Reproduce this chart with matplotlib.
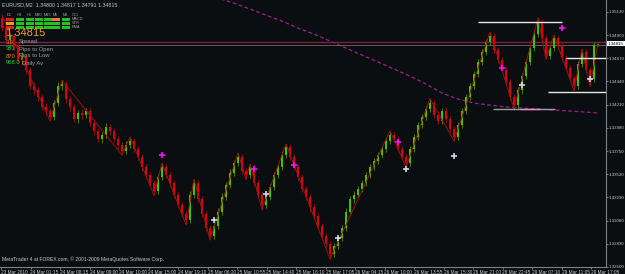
import matplotlib
matplotlib.use('Agg')
import matplotlib.pyplot as plt
import matplotlib.transforms as mtransforms

# EURUSD M2 bars (open, high, low, close)
opens = [1.3507, 1.3497, 1.3485, 1.3489, 1.3479, 1.3465, 1.3469, 1.3455, 1.3439, 1.3435,
         1.3429, 1.3419, 1.3415, 1.3409, 1.3423, 1.3439, 1.3441, 1.3427, 1.3419, 1.3407,
         1.3413, 1.3411, 1.3415, 1.3403, 1.3395, 1.3387, 1.3391, 1.3399, 1.3395, 1.3387,
         1.3381, 1.3375, 1.3381, 1.3385, 1.3377, 1.3369, 1.3359, 1.3351, 1.3343, 1.3335,
         1.3349, 1.3359, 1.3351, 1.3343, 1.3331, 1.3321, 1.3313, 1.3307, 1.3331, 1.3343,
         1.3327, 1.3313, 1.3299, 1.3291, 1.3301, 1.3315, 1.3329, 1.3341, 1.3353, 1.3363,
         1.3369, 1.3355, 1.3351, 1.3359, 1.3343, 1.3331, 1.3321, 1.3329, 1.3339, 1.3351,
         1.3359, 1.3371, 1.3379, 1.3369, 1.3359, 1.3349, 1.3337, 1.3329, 1.3319, 1.3311,
         1.3301, 1.3291, 1.3283, 1.3273, 1.3281, 1.3289, 1.3299, 1.3315, 1.3327, 1.3331,
         1.3337, 1.3343, 1.3351, 1.3359, 1.3365, 1.3371, 1.3377, 1.3385, 1.3391, 1.3387,
         1.3377, 1.3369, 1.3363, 1.3377, 1.3389, 1.3401, 1.3409, 1.3417, 1.3423, 1.3411,
         1.3405, 1.3415, 1.3407, 1.3397, 1.3389, 1.3401, 1.3415, 1.3429, 1.3439, 1.3451,
         1.3463, 1.3473, 1.3483, 1.3489, 1.3475, 1.3465, 1.3455, 1.3443, 1.3429, 1.3421,
         1.3435, 1.3449, 1.3463, 1.3477, 1.3491, 1.3503, 1.3487, 1.3469, 1.3477, 1.3487,
         1.3479, 1.3467, 1.3457, 1.3447, 1.3439, 1.3461, 1.3473, 1.3455, 1.3446, 1.3480]
highs = [1.3510, 1.3500, 1.3493, 1.3491, 1.3482, 1.3473, 1.3471, 1.3458, 1.3443, 1.3438,
         1.3432, 1.3423, 1.3418, 1.3426, 1.3443, 1.3445, 1.3444, 1.3430, 1.3422, 1.3416,
         1.3417, 1.3418, 1.3418, 1.3406, 1.3398, 1.3394, 1.3403, 1.3402, 1.3398, 1.3390,
         1.3384, 1.3385, 1.3389, 1.3388, 1.3380, 1.3372, 1.3362, 1.3354, 1.3346, 1.3352,
         1.3363, 1.3362, 1.3354, 1.3346, 1.3334, 1.3324, 1.3316, 1.3335, 1.3347, 1.3346,
         1.3330, 1.3316, 1.3302, 1.3304, 1.3318, 1.3333, 1.3344, 1.3357, 1.3366, 1.3373,
         1.3372, 1.3358, 1.3362, 1.3362, 1.3346, 1.3334, 1.3332, 1.3342, 1.3354, 1.3362,
         1.3375, 1.3382, 1.3382, 1.3372, 1.3362, 1.3352, 1.3340, 1.3332, 1.3322, 1.3314,
         1.3304, 1.3294, 1.3286, 1.3284, 1.3292, 1.3302, 1.3318, 1.3330, 1.3335, 1.3340,
         1.3346, 1.3354, 1.3362, 1.3368, 1.3374, 1.3380, 1.3388, 1.3395, 1.3394, 1.3390,
         1.3380, 1.3372, 1.3380, 1.3392, 1.3404, 1.3412, 1.3420, 1.3427, 1.3426, 1.3414,
         1.3418, 1.3418, 1.3410, 1.3400, 1.3404, 1.3418, 1.3432, 1.3442, 1.3454, 1.3466,
         1.3476, 1.3486, 1.3493, 1.3492, 1.3478, 1.3468, 1.3458, 1.3446, 1.3432, 1.3438,
         1.3452, 1.3466, 1.3480, 1.3494, 1.3507, 1.3506, 1.3490, 1.3480, 1.3490, 1.3490,
         1.3482, 1.3470, 1.3460, 1.3450, 1.3464, 1.3476, 1.3476, 1.3458, 1.3483, 1.34817]
lows = [1.3494, 1.3482, 1.3481, 1.3475, 1.3462, 1.3461, 1.3451, 1.3436, 1.3431, 1.3425,
        1.3416, 1.3411, 1.3405, 1.3406, 1.3420, 1.3435, 1.3423, 1.3415, 1.3404, 1.3403,
        1.3407, 1.3408, 1.3400, 1.3391, 1.3384, 1.3383, 1.3388, 1.3391, 1.3384, 1.3377,
        1.3371, 1.3372, 1.3378, 1.3374, 1.3366, 1.3355, 1.3347, 1.3340, 1.3331, 1.3332,
        1.3346, 1.3348, 1.3339, 1.3328, 1.3318, 1.3310, 1.3302, 1.3304, 1.3328, 1.3324,
        1.3310, 1.3296, 1.3287, 1.3288, 1.3298, 1.3312, 1.3326, 1.3338, 1.3350, 1.3360,
        1.3352, 1.3347, 1.3348, 1.3340, 1.3328, 1.3317, 1.3318, 1.3326, 1.3336, 1.3348,
        1.3356, 1.3368, 1.3366, 1.3356, 1.3345, 1.3334, 1.3326, 1.3315, 1.3308, 1.3297,
        1.3288, 1.3279, 1.3268, 1.3270, 1.3278, 1.3286, 1.3296, 1.3312, 1.3323, 1.3328,
        1.3334, 1.3340, 1.3348, 1.3356, 1.3362, 1.3368, 1.3374, 1.3382, 1.3384, 1.3374,
        1.3366, 1.3359, 1.3360, 1.3374, 1.3386, 1.3398, 1.3406, 1.3414, 1.3408, 1.3402,
        1.3402, 1.3404, 1.3394, 1.3385, 1.3386, 1.3398, 1.3412, 1.3426, 1.3436, 1.3448,
        1.3460, 1.3470, 1.3480, 1.3472, 1.3462, 1.3452, 1.3440, 1.3426, 1.3417, 1.3418,
        1.3432, 1.3446, 1.3460, 1.3474, 1.3488, 1.3484, 1.3466, 1.3466, 1.3474, 1.3476,
        1.3464, 1.3454, 1.3444, 1.3435, 1.3436, 1.3458, 1.3452, 1.3439, 1.3443, 1.34791]
closes = [1.3497, 1.3485, 1.3489, 1.3479, 1.3465, 1.3469, 1.3455, 1.3439, 1.3435, 1.3429,
          1.3419, 1.3415, 1.3409, 1.3423, 1.3439, 1.3441, 1.3427, 1.3419, 1.3407, 1.3413,
          1.3411, 1.3415, 1.3403, 1.3395, 1.3387, 1.3391, 1.3399, 1.3395, 1.3387, 1.3381,
          1.3375, 1.3381, 1.3385, 1.3377, 1.3369, 1.3359, 1.3351, 1.3343, 1.3335, 1.3349,
          1.3359, 1.3351, 1.3343, 1.3331, 1.3321, 1.3313, 1.3307, 1.3331, 1.3343, 1.3327,
          1.3313, 1.3299, 1.3291, 1.3301, 1.3315, 1.3329, 1.3341, 1.3353, 1.3363, 1.3369,
          1.3355, 1.3351, 1.3359, 1.3343, 1.3331, 1.3321, 1.3329, 1.3339, 1.3351, 1.3359,
          1.3371, 1.3379, 1.3369, 1.3359, 1.3349, 1.3337, 1.3329, 1.3319, 1.3311, 1.3301,
          1.3291, 1.3283, 1.3273, 1.3281, 1.3289, 1.3299, 1.3315, 1.3327, 1.3331, 1.3337,
          1.3343, 1.3351, 1.3359, 1.3365, 1.3371, 1.3377, 1.3385, 1.3391, 1.3387, 1.3377,
          1.3369, 1.3363, 1.3377, 1.3389, 1.3401, 1.3409, 1.3417, 1.3423, 1.3411, 1.3405,
          1.3415, 1.3407, 1.3397, 1.3389, 1.3401, 1.3415, 1.3429, 1.3439, 1.3451, 1.3463,
          1.3473, 1.3483, 1.3489, 1.3475, 1.3465, 1.3455, 1.3443, 1.3429, 1.3421, 1.3435,
          1.3449, 1.3463, 1.3477, 1.3491, 1.3503, 1.3487, 1.3469, 1.3477, 1.3487, 1.3479,
          1.3467, 1.3457, 1.3447, 1.3439, 1.3461, 1.3473, 1.3455, 1.3446, 1.3480, 1.34815]

# slow moving average (dashed)
ma_bars = [54, 58, 62, 66, 70, 74, 78, 82, 86, 90, 94, 98, 102, 106, 110,
           114, 118, 122, 126, 130, 134, 138, 142, 146, 149]
ma_vals = [1.35266, 1.35216, 1.35157, 1.35097, 1.35038, 1.34968, 1.34909, 1.34840,
           1.34770, 1.34701, 1.34632, 1.34562, 1.34493, 1.34414, 1.34324, 1.34265,
           1.34225, 1.34205, 1.34186, 1.34176, 1.34166, 1.34156, 1.34146, 1.34136, 1.34126]

# zigzag pivots
zz_bars = [0, 12, 15, 30, 32, 38, 40, 46, 48, 52, 59, 61, 62, 65, 71, 82, 97,
           101, 107, 113, 122, 128, 134, 136, 138, 143, 145, 147, 149]
zz_vals = [1.3510, 1.3405, 1.3445, 1.3371, 1.3389, 1.3331, 1.3363, 1.3302, 1.3347,
           1.3287, 1.3373, 1.3347, 1.3362, 1.3317, 1.3382, 1.3268, 1.3395, 1.3359,
           1.3427, 1.3385, 1.3493, 1.3417, 1.3507, 1.3466, 1.3490, 1.3435, 1.3476,
           1.3439, 1.34817]

# fractal marks
up_bars = [40, 63, 73, 99, 125, 140]
up_vals = [1.3371, 1.3357, 1.3361, 1.3384, 1.3457, 1.3497]
dn_bars = [53, 66, 84, 101, 113, 130, 147]
dn_vals = [1.3307, 1.3332, 1.3289, 1.3357, 1.3370, 1.3440, 1.3446]

# support / resistance segments
sr_levels = [1.3503, 1.3467, 1.3433, 1.3417]
sr_start = [119, 141, 136.5, 122.75]
sr_end = [140, 151, 151, 138.25]
sr_colors = ['#e8e8e8', '#e8e8e8', '#e8e8e8', '#a0a0a0']

bid = 1.34815
time_labels = ["23 Mar 2010", "24 Mar 01:15", "24 Mar 08:15", "24 Mar 09:00", "24 Mar 10:00",
               "24 Mar 15:00", "24 Mar 19:10", "25 Mar 06:20", "25 Mar 10:55", "25 Mar 14:40",
               "25 Mar 16:10", "25 Mar 17:05", "26 Mar 04:15", "26 Mar 10:00", "26 Mar 13:55",
               "26 Mar 15:30", "26 Mar 21:00", "28 Mar 22:45", "29 Mar 07:10", "29 Mar 11:05",
               "29 Mar 17:05"]
price_ticks = [1.32600, 1.32830, 1.33060, 1.33290, 1.33520, 1.33750,
               1.33980, 1.34210, 1.34440, 1.34670, 1.34900, 1.35130]

plt.rcParams['font.family'] = ['Liberation Sans', 'DejaVu Sans']

bg = '#0a0e10'
fg = '#c8c8c8'
bull, bear = '#3ec400', '#e00010'

W, H = 625, 274
fig = plt.figure(figsize=(6.25, 2.74), dpi=100, facecolor=bg)
ax = fig.add_axes([0, 7 / H, 606 / W, 267 / H])
ax.set_facecolor(bg)

# moving average and horizontal lines behind bars
ax.plot(ma_bars, ma_vals, color='#a0208c', lw=0.9, dashes=(3, 2), zorder=1)
ax.axhline(bid + 0.00015, color='#8a1f3c', lw=0.9, zorder=1)
ax.axhline(bid - 0.00015, color='#6a6a6a', lw=0.6, zorder=1)

xs = list(range(len(closes)))
for i in xs:
    o, h, l, c = opens[i], highs[i], lows[i], closes[i]
    up = c >= o
    ax.vlines(i, l, h, color='#4f7a00' if up else '#8b1414', lw=0.7, zorder=2)
    ax.bar(i, max(abs(c - o), 0.00006), bottom=min(o, c), width=0.66,
           color=bull if up else bear, linewidth=0, zorder=3)

ax.plot(zz_bars, zz_vals, color='#a01010', lw=0.7, zorder=4)
ax.plot(up_bars, up_vals, '+', color='#ff10ff', ms=4, mew=1.2, zorder=5)
ax.plot(dn_bars, dn_vals, '+', color='#d0d8e8', ms=4, mew=1.2, zorder=5)
ax.hlines(sr_levels, sr_start, sr_end, colors=sr_colors, lw=1.0, zorder=4)
ax.hlines(sr_levels[3], 129.5, 134.5, colors='#e090c0', lw=1.0, zorder=4)

ax.set_xlim(-0.5, 151)
ax.set_ylim(1.3260, 1.3260 + 0.02647)

ax.yaxis.tick_right()
ax.set_yticks(price_ticks)
ax.set_yticklabels(['%.5f' % p for p in price_ticks])
ax.set_xticks([-0.25 + 7.375 * k for k in range(len(time_labels))])
ax.set_xticklabels(time_labels, ha='left')
ax.tick_params(colors='#909090', labelcolor=fg, labelsize=3.4, length=1.5, width=0.6, pad=0.8)
ax.tick_params(axis='y', labelsize=3.2, pad=0.5)
for s in ['top', 'left']:
    ax.spines[s].set_visible(False)
for s in ['right', 'bottom']:
    ax.spines[s].set_color('#808080')
    ax.spines[s].set_linewidth(0.8)

# current price box on the price scale
tr = mtransforms.blended_transform_factory(ax.transAxes, ax.transData)
ax.text(1.003, bid, '%.5f' % bid, transform=tr, ha='left', va='center', fontsize=3.2,
        color='black', bbox=dict(boxstyle='square,pad=0.2', fc='white', ec='none'),
        clip_on=False, zorder=6)


def px(x, y, s, **kw):
    fig.text(x / W, 1 - y / H, s, va='center', **kw)


px(2, 5, 'EURUSD,M2  1.34800 1.34817 1.34791 1.34815', fontsize=3.8, color=fg)

# timeframe signal panel
tfs = ['D1', 'H4', 'H1', 'M30', 'M15', 'M5', 'M1']
cells_x = [6, 16, 26, 35, 44, 52, 62]
g = '#22c422'
panel = [['#e02020', g, g, g, g, '#f07050', g],
         ['#e8a000', g, g, g, g, g, g],
         ['#e02020', g, g, g, g, g, g]]
for j, tf in enumerate(tfs):
    px(cells_x[j] + 3.5, 15, tf, fontsize=2.8, color='#a0a0a0', ha='center')
    for r in range(3):
        fig.patches.append(plt.Rectangle((cells_x[j] / W, 1 - (21 + 4 * r) / H), 7.5 / W, 3 / H,
                                         transform=fig.transFigure, fc=panel[r][j], ec='none'))
for r, name in enumerate(['CCI', 'MACD', 'STR', 'EMA']):
    px(72, 15 + 4 * r, name, fontsize=2.8, color='#a0a0a0')

px(5, 33, '1.34815', fontsize=8, color='#e8a030')
px(6, 42, '3.0', fontsize=4.2, color='#ff6020')
px(19, 42, 'Spread', fontsize=4.2, color='#a0a0a0')
px(6, 49, '381', fontsize=4.2, color='#30d030')
px(19, 49, 'Pips to Open', fontsize=4.2, color='#a0a0a0')
px(6, 56, '870', fontsize=4.2, color='#f08020')
px(19, 56, 'Pips to Low', fontsize=4.2, color='#a0a0a0')
px(6, 63, '958.0', fontsize=4.2, color='#30d030')
px(22, 63, 'Daily Av', fontsize=4.2, color='#a0a0a0')

px(2, 259, 'MetaTrader 4 at FOREX.com, \u00a9 2001-2009 MetaQuotes Software Corp.',
   fontsize=3.6, color=fg)

fig.savefig('out.png', dpi=100, facecolor=bg)
